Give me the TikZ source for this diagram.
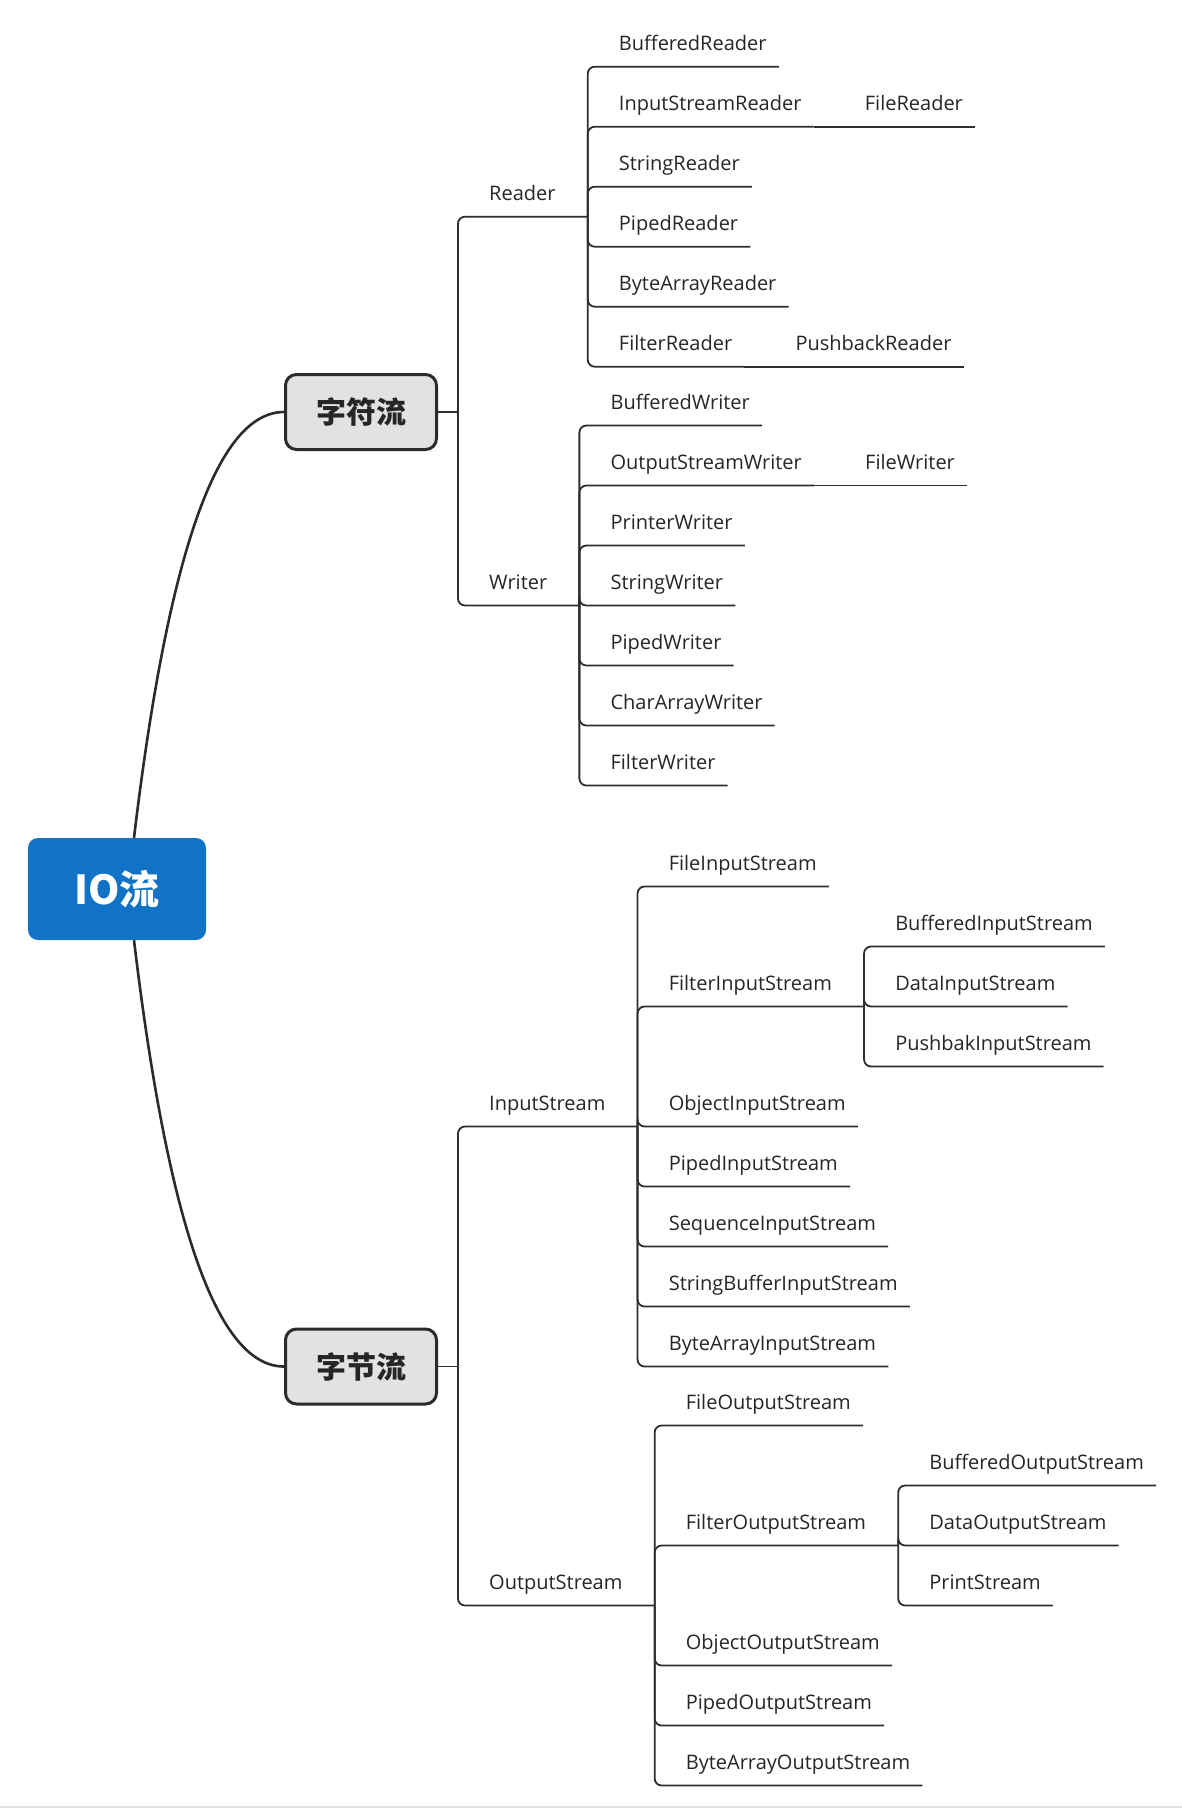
\documentclass[tikz,border=0pt]{standalone}
\usepackage{fontspec}
\setmainfont{Open Sans}
\newfontfamily\cjk{Noto Sans CJK SC}
\usepackage{xcolor}
\usepackage{tikz}
\usetikzlibrary{calc, positioning}

\definecolor{rootblue}{HTML}{1073C5}
\definecolor{topicfill}{HTML}{E2E2E2}
\definecolor{topicline}{HTML}{2B2B2B}
\definecolor{linkgray}{HTML}{2E2E2E}
\definecolor{labelgray}{HTML}{262626}
\definecolor{stripgray}{HTML}{E0E0E0}

\begin{document}
\begin{tikzpicture}[x=1pt, y=-1pt,
    link/.style={draw=linkgray, line width=1.8pt, rounded corners=7pt},
    curve/.style={draw=topicline, line width=2.6pt},
    leaf/.style={anchor=south west, inner xsep=12pt, inner ysep=16pt, text depth=0pt,
        text=labelgray, font=\fontsize{20}{24}\selectfont},
    topic/.style={draw=topicline, fill=topicfill, line width=3pt, rounded corners=11pt,
        minimum width=151pt, minimum height=75pt, inner sep=0pt, text=labelgray,
        font=\cjk\bfseries\fontsize{30}{36}\selectfont},
    root/.style={fill=rootblue, rounded corners=10pt, minimum width=178pt,
        minimum height=102pt, inner sep=0pt, text=white,
        font=\cjk\bfseries\fontsize{40}{48}\selectfont}]
    % 1. 背景与边界
    \fill[white] (0,0) rectangle (1182,1808);
    \fill[stripgray] (0,1806) rectangle (1182,1808);
    \useasboundingbox (0,0) rectangle (1182,1808);

    % 2. 中心主题与两个分支主题
    \node[root] (io) at (117,889) {IO流};
    \node[topic] (zifu) at (361,412) {字符流};
    \node[topic] (zijie) at (361,1366.5) {字节流};
    \draw[curve] ([xshift=17pt]io.north) .. controls +(34,-284) and +(-67,0) .. (zifu.west);
    \draw[curve] ([xshift=17pt]io.south) .. controls +(34,284) and +(-67,0) .. (zijie.west);

    % 3. 字符流: Reader, Writer
    \coordinate (jzf) at ([xshift=20pt]zifu.east);
    \draw[link] (zifu.east) -- (jzf);
    \node[leaf, xshift=19pt] (reader) at (jzf |- 0,216.7) {Reader};
    \node[leaf, xshift=19pt] (writer) at (jzf |- 0,605.5) {Writer};
    \coordinate (jr) at ([xshift=20pt]reader.south east);
    \coordinate (jw) at ([xshift=20pt]writer.south east);
    \draw[link] (jzf) |- (jr);
    \draw[link] (jzf) |- (jw);

    \foreach \nm/\txt/\ly in {bfr/BufferedReader/66.7, isr/InputStreamReader/126.7,
        sgr/StringReader/186.7, ppr/PipedReader/246.7,
        bar/ByteArrayReader/306.7, flr/FilterReader/366.7} {
        \node[leaf, xshift=19pt] (\nm) at (jr |- 0,\ly) {\txt};
        \draw[link] (jr) |- (\nm.south east);
    }
    \foreach \nm/\txt/\ly in {bfw/BufferedWriter/425.5, osw/OutputStreamWriter/485.5,
        prw/PrinterWriter/545.5, sgw/StringWriter/605.5, ppw/PipedWriter/665.5,
        caw/CharArrayWriter/725.5, flw/FilterWriter/785.5} {
        \node[leaf, xshift=19pt] (\nm) at (jw |- 0,\ly) {\txt};
        \draw[link] (jw) |- (\nm.south east);
    }
    \node[leaf, xshift=39pt] (fr) at (isr.south east) {FileReader};
    \node[leaf, xshift=39pt] (pbr) at (flr.south east) {PushbackReader};
    \node[leaf, xshift=39pt] (fw) at (osw.south east) {FileWriter};
    \foreach \a/\b in {isr/fr, flr/pbr, osw/fw}
        \draw[link] (\a.south east) -- (\b.south east);

    % 4. 字节流: InputStream, OutputStream
    \coordinate (jzj) at ([xshift=20pt]zijie.east);
    \draw[link] (zijie.east) -- (jzj);
    \node[leaf, xshift=19pt] (ins) at (jzj |- 0,1126.5) {InputStream};
    \node[leaf, xshift=19pt] (outs) at (jzj |- 0,1605.5) {OutputStream};
    \coordinate (ji) at ([xshift=20pt]ins.south east);
    \coordinate (jo) at ([xshift=20pt]outs.south east);
    \draw[link] (jzj) |- (ji);
    \draw[link] (jzj) |- (jo);

    \foreach \nm/\txt/\ly in {fis/FileInputStream/886.5, ois/ObjectInputStream/1126.5,
        pis/PipedInputStream/1186.5, sis/SequenceInputStream/1246.5,
        sbis/StringBufferInputStream/1306.5, bais/ByteArrayInputStream/1366.5} {
        \node[leaf, xshift=19pt] (\nm) at (ji |- 0,\ly) {\txt};
        \draw[link] (ji) |- (\nm.south east);
    }
    \foreach \nm/\txt/\ly in {fos/FileOutputStream/1425.5, oos/ObjectOutputStream/1665.5,
        pos/PipedOutputStream/1725.5, baos/ByteArrayOutputStream/1785.5} {
        \node[leaf, xshift=19pt] (\nm) at (jo |- 0,\ly) {\txt};
        \draw[link] (jo) |- (\nm.south east);
    }

    % 5. FilterInputStream, FilterOutputStream 及其子类
    \node[leaf, xshift=19pt] (flis) at (ji |- 0,1006.5) {FilterInputStream};
    \node[leaf, xshift=19pt] (flos) at (jo |- 0,1545.5) {FilterOutputStream};
    \coordinate (jfi) at ([xshift=20pt]flis.south east);
    \coordinate (jfo) at ([xshift=20pt]flos.south east);
    \draw[link] (ji) |- (jfi);
    \draw[link] (jo) |- (jfo);
    \foreach \nm/\txt/\ly in {bis/BufferedInputStream/946.5, dis/DataInputStream/1006.5,
        pbis/PushbakInputStream/1066.5} {
        \node[leaf, xshift=19pt] (\nm) at (jfi |- 0,\ly) {\txt};
        \draw[link] (jfi) |- (\nm.south east);
    }
    \foreach \nm/\txt/\ly in {bos/BufferedOutputStream/1485.5, dos/DataOutputStream/1545.5,
        prs/PrintStream/1605.5} {
        \node[leaf, xshift=19pt] (\nm) at (jfo |- 0,\ly) {\txt};
        \draw[link] (jfo) |- (\nm.south east);
    }
\end{tikzpicture}
\end{document}
